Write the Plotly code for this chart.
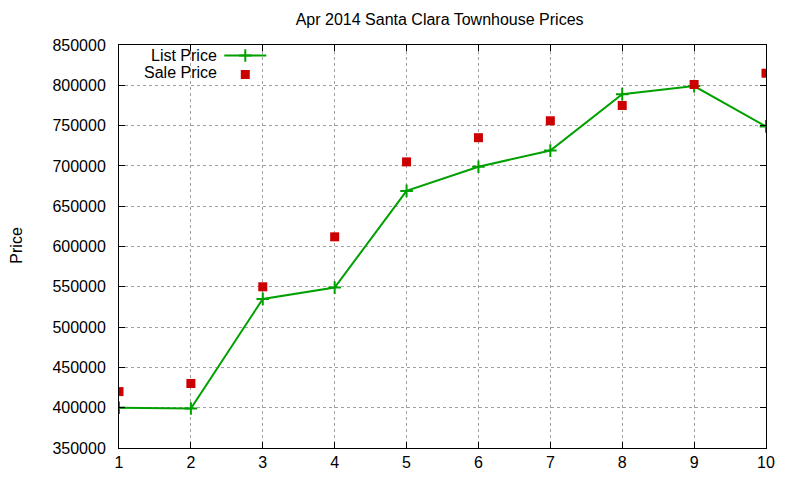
import plotly.graph_objects as go

# Apr 2014 Santa Clara townhouse data
house = [1, 2, 3, 4, 5, 6, 7, 8, 9, 10]
list_price = [400000, 399000, 535000, 549000, 669000, 699000, 719000, 789000, 799000, 749000]
sale_price = [420000, 430000, 550000, 612000, 705000, 735000, 756000, 775000, 801000, 815000]

y_ticks = list(range(350000, 850001, 50000))
y_labels = [str(v) for v in y_ticks]

GREEN = '#00a000'
RED = '#cc0000'
FONT = 'Liberation Sans, Arial, sans-serif'

fig = go.Figure()
fig.add_trace(go.Scatter(x=house, y=list_price, mode='lines+markers', name='List Price',
                         line=dict(color=GREEN, width=2),
                         marker=dict(symbol='cross-thin', size=9, line=dict(color=GREEN, width=2))))
fig.add_trace(go.Scatter(x=house, y=sale_price, mode='markers', name='Sale Price',
                         marker=dict(symbol='square', size=9, color=RED)))

axis_style = dict(showline=True, linecolor='black', linewidth=1, mirror='allticks',
                  ticks='inside', ticklen=6, tickcolor='black',
                  showgrid=True, gridcolor='#a0a0a0', griddash='dot', gridwidth=1,
                  zeroline=False, automargin=False,
                  tickfont=dict(family=FONT, size=16, color='black'))

fig.update_xaxes(range=[1, 10], tickvals=house, **axis_style)
fig.update_yaxes(range=[350000, 850000], tickvals=y_ticks, ticktext=y_labels,
                 ticklabelstandoff=9, **axis_style)

# page body has an 8px margin, so the figure is sized to fit the 800x480 window
fig.update_layout(
    width=792, height=472,
    plot_bgcolor='white', paper_bgcolor='white',
    margin=dict(l=111, r=34, t=37, b=32),
    title=dict(text='Apr 2014 Santa Clara Townhouse Prices', x=0.545, xanchor='center',
               y=0.975, yanchor='middle', font=dict(family=FONT, size=16, color='black')),
    legend=dict(x=0.155, y=1.01, xanchor='left', yanchor='top', bgcolor='rgba(0,0,0,0)',
                font=dict(family=FONT, size=8, color='rgba(0,0,0,0)'),
                tracegroupgap=0, itemwidth=42),
    showlegend=True,
)

fig.add_annotation(text='Price', xref='paper', yref='paper', x=-0.158, y=0.504,
                   textangle=-90, xanchor='center', yanchor='middle', showarrow=False,
                   font=dict(family=FONT, size=16, color='black'))

# legend labels sit to the left of their symbols, gnuplot style
fig.add_annotation(text='List Price', xref='paper', yref='paper', x=0.155, y=0.973,
                   xanchor='right', yanchor='middle', showarrow=False,
                   font=dict(family=FONT, size=16, color='black'))
fig.add_annotation(text='Sale Price', xref='paper', yref='paper', x=0.155, y=0.932,
                   xanchor='right', yanchor='middle', showarrow=False,
                   font=dict(family=FONT, size=16, color='black'))

fig.write_html("out.html")
